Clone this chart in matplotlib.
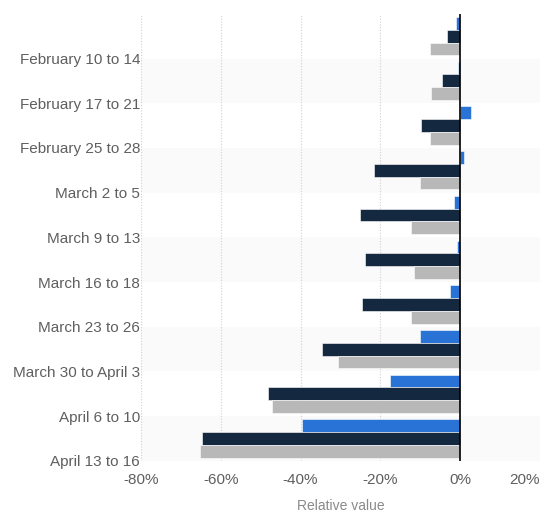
import matplotlib.pyplot as plt
import numpy as np

plt.rcParams['font.family'] = ['Liberation Sans', 'DejaVu Sans']

semanas = ["February 10 to 14", "February 17 to 21", "February 25 to 28",
           "March 2 to 5", "March 9 to 13", "March 16 to 18", "March 23 to 26",
           "March 30 to April 3", "April 6 to 10", "April 13 to 16"]
serie_azul = [-1.1, -0.5, 2.8, 0.9, -1.5, -0.8, -2.6, -10.1, -17.6, -39.6]
serie_marino = [-3.3, -4.5, -9.8, -21.7, -25.0, -23.8, -24.5, -34.6, -48.2, -64.7]
serie_gris = [-7.6, -7.3, -7.6, -10.1, -12.3, -11.6, -12.3, -30.6, -47.1, -65.1]
ticks_x = [-80, -60, -40, -20, 0, 20]

colores = ["#2a73d6", "#142840", "#b8b8b8"]
texto = "#5f5f5f"

fig = plt.figure(figsize=(5.4, 5.11), dpi=100)
ax = fig.add_axes([0.261, 0.098, 0.739, 0.875])

y = np.arange(len(semanas))
alto = 0.285

# bandas alternas
for i in range(len(semanas)):
    if i % 2 == 1:
        ax.axhspan(i - 0.5, i + 0.5, color="#fafafa", zorder=0, lw=0)

for j, serie in enumerate([serie_azul, serie_marino, serie_gris]):
    ax.barh(y + (j - 1) * alto, serie, height=alto, color=colores[j],
            zorder=3, edgecolor="white", linewidth=0.4)

for x in ticks_x[:-2]:
    ax.axvline(x, color="#d0d0d0", lw=0.8, ls=(0, (1, 1.5)), zorder=1)
ax.axvline(0, color="black", lw=1.2, zorder=4)

ax.set_xlim(-80, 20)
ax.set_ylim(len(semanas) - 0.5, -0.5)
ax.set_xticks(ticks_x)
etiquetas_x = ax.set_xticklabels([f"{v}%" for v in ticks_x], color=texto, fontsize=11)
etiquetas_x[-1].set_horizontalalignment("right")
ax.set_yticks(y + 0.5)
ax.set_yticklabels(semanas, color=texto, fontsize=11)
ax.tick_params(axis="both", length=0)
ax.tick_params(axis="x", pad=9)
ax.tick_params(axis="y", pad=0.5)
for s in ax.spines.values():
    s.set_visible(False)

ax.set_xlabel("Relative value", color="#8a8a8a", fontsize=10, labelpad=8)

plt.savefig("out.png", dpi=100)
